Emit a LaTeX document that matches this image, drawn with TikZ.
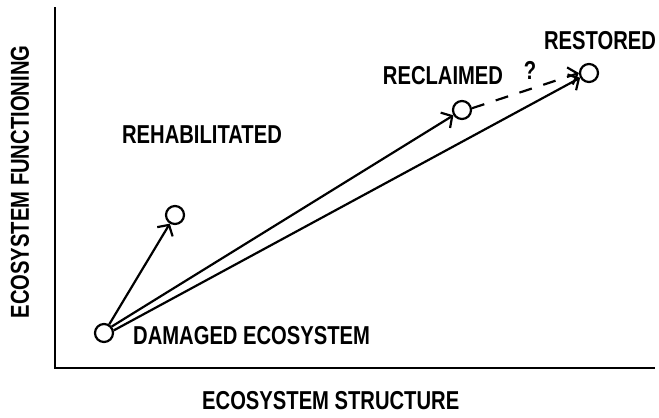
\documentclass[tikz,border=0pt]{standalone}
\usepackage{fontspec}
\setmainfont{Liberation Sans}
\usetikzlibrary{arrows.meta}

% narrow bold capitals for all labels
\newcommand{\lettering}[1]{\scalebox{0.78}[1]{#1}}

\tikzset{
  stage/.style={circle, draw, line width=2.2pt, minimum size=18bp, inner sep=0pt},
  lbl/.style={font=\bfseries\fontsize{26}{28}\selectfont, inner sep=0pt},
  path/.style={line width=2.2pt, -{Straight Barb[length=8bp,width=18bp,line width=2.2pt]}}
}

\begin{document}
\begin{tikzpicture}[x=1bp,y=-1bp]
\useasboundingbox (0,0) rectangle (659,417);

% axes
\draw[line width=2.2pt] (55,7) -- (55,368) -- (655,368);
\node[rotate=90, lbl] (yl) at (20,182) {\lettering{ECOSYSTEM FUNCTIONING}};
\node[lbl, anchor=west] (xl) at (202,401) {\lettering{ECOSYSTEM STRUCTURE}};

% states
\node[stage] (dmg) at (104,333) {};
\node[stage] (rehab) at (175,215) {};
\node[stage] (recl) at (462,110) {};
\node[stage] (rest) at (589,73) {};

\node[lbl, anchor=west] (dmgl) at (133,336) {\lettering{DAMAGED ECOSYSTEM}};
\node[lbl] (rehabl) at (202,135) {\lettering{REHABILITATED}};
\node[lbl] (recll) at (443,76) {\lettering{RECLAIMED}};
\node[lbl] (restl) at (600,41) {\lettering{RESTORED}};

% trajectories
\draw[path] (dmg) -- (rehab);
\draw[path] (dmg.40) -- (recl);
\draw[path] (dmg.15) -- (rest);
\draw[path, dash pattern=on 13bp off 12bp] (recl.10) -- (rest.west);
\node[lbl] (q) at (530,70) {\lettering{?}};
\end{tikzpicture}
\end{document}
